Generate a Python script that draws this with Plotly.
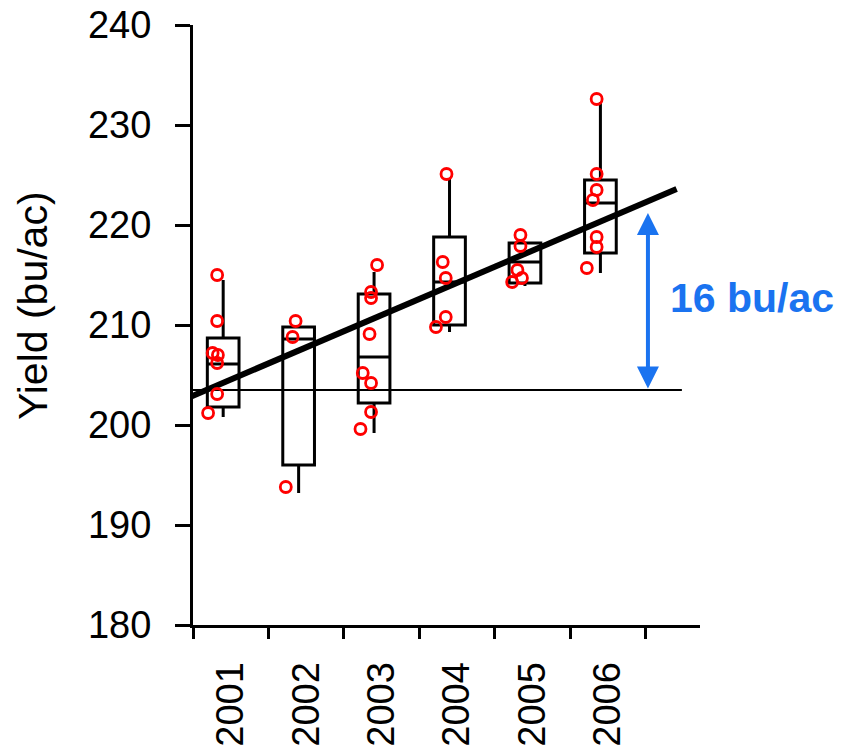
import plotly.graph_objects as go

# ---- data ----
years = ["2001", "2002", "2003", "2004", "2005", "2006"]
year_pos = [1, 2, 3, 4, 5, 6]

box_q1 = [201.8, 196.0, 202.2, 210.0, 214.2, 217.2]
box_median = [206.1, 208.6, 206.8, 214.3, 216.3, 222.2]
box_q3 = [208.7, 209.8, 213.1, 218.8, 218.2, 224.5]
box_low = [200.8, 193.2, 199.2, 209.3, 213.9, 215.2]
box_high = [214.5, 209.8, 215.3, 224.7, 218.2, 232.3]

pts_x = [0.82, 0.82, 0.76, 0.83, 0.82, 0.82, 0.70,
         1.86, 1.82, 1.73,
         2.94, 2.86, 2.86, 2.84, 2.75, 2.86, 2.86, 2.72,
         3.86, 3.81, 3.85, 3.85, 3.72,
         4.84, 4.84, 4.80, 4.86, 4.73,
         5.85, 5.85, 5.85, 5.80, 5.85, 5.85, 5.72]
pts_y = [215.0, 210.4, 207.2, 207.0, 206.2, 203.1, 201.2,
         210.4, 208.8, 193.8,
         216.0, 213.3, 212.7, 209.1, 205.2, 204.2, 201.3, 199.6,
         225.1, 216.3, 214.7, 210.8, 209.8,
         219.0, 217.9, 215.5, 214.7, 214.3,
         232.6, 225.1, 223.5, 222.5, 218.8, 217.8, 215.7]

trend_x = [0.46, 6.91]
trend_y = [202.8, 223.6]

baseline_x = [0.5, 6.98]
baseline_y = [203.5, 203.5]

arrow_x = 6.53
arrow_low = 203.5
arrow_high = 221.2
gain_label = "16 bu/ac"

y_ticks = [180, 190, 200, 210, 220, 230, 240]

# ---- styling ----
BOX_OFFSET = -0.1
BLUE = "#1a73f0"
FONT = "Arial, Liberation Sans, sans-serif"

fig = go.Figure()

fig.add_trace(go.Box(
    x=[p + BOX_OFFSET for p in year_pos],
    q1=box_q1, median=box_median, q3=box_q3,
    lowerfence=box_low, upperfence=box_high,
    width=0.42, whiskerwidth=0,
    line=dict(color="black", width=3),
    fillcolor="rgba(255,255,255,0)",
    boxpoints=False, showlegend=False, hoverinfo="skip",
))

fig.add_trace(go.Scatter(
    x=baseline_x, y=baseline_y, mode="lines",
    line=dict(color="black", width=2), showlegend=False, hoverinfo="skip",
))

fig.add_trace(go.Scatter(
    x=trend_x, y=trend_y, mode="lines",
    line=dict(color="black", width=6), showlegend=False, hoverinfo="skip",
    cliponaxis=False,
))

fig.add_trace(go.Scatter(
    x=pts_x, y=pts_y, mode="markers",
    marker=dict(symbol="circle-open", size=11, color="#ff0000",
                line=dict(width=2.8, color="#ff0000")),
    showlegend=False, hoverinfo="skip",
))

# double-headed arrow
fig.add_annotation(
    x=arrow_x, y=arrow_high, ax=arrow_x, ay=arrow_low,
    xref="x", yref="y", axref="x", ayref="y",
    showarrow=True, arrowhead=2, startarrowhead=2, arrowside="end+start",
    arrowsize=1.1, startarrowsize=1.1, arrowwidth=4, arrowcolor=BLUE, text="",
)
fig.add_annotation(
    x=6.79, y=212.7, xref="x", yref="y", xanchor="left", yanchor="middle",
    text="<b>%s</b>" % gain_label, showarrow=False,
    font=dict(family=FONT, size=41, color=BLUE),
)
# y axis title
fig.add_annotation(
    x=-0.315, y=0.532, xref="paper", yref="paper",
    text="Yield (bu/ac)", textangle=-90, showarrow=False,
    xanchor="center", yanchor="middle",
    font=dict(family=FONT, size=41, color="black"),
)

fig.update_layout(
    width=841, height=747,
    margin=dict(l=193, r=141, t=25, b=122, autoexpand=False),
    paper_bgcolor="white", plot_bgcolor="white",
    font=dict(family=FONT, color="black"),
)

fig.update_xaxes(
    range=[0.5, 7.22], showgrid=False, zeroline=False,
    showline=True, linecolor="black", linewidth=3,
    tickmode="array", tickvals=year_pos, ticktext=years,
    ticks="", tickangle=-90, ticklabelstandoff=19,
    tickfont=dict(family=FONT, size=38, color="black"),
    minor=dict(ticks="outside", ticklen=11, tickwidth=3, tickcolor="black",
               tick0=0.5, dtick=1, showgrid=False),
    automargin=False,
)
fig.update_yaxes(
    range=[180, 240], showgrid=False, zeroline=False,
    showline=True, linecolor="black", linewidth=3,
    tickmode="array", tickvals=y_ticks,
    ticks="outside", ticklen=15, tickwidth=3, tickcolor="black",
    ticklabelstandoff=16, ticklabeloverflow="allow",
    tickfont=dict(family=FONT, size=38, color="black"),
    automargin=False,
)

fig.write_html(
    "out.html",
    config={"displayModeBar": False, "staticPlot": True},
    post_script="document.body.style.margin='0';document.body.style.overflow='hidden';",
)
